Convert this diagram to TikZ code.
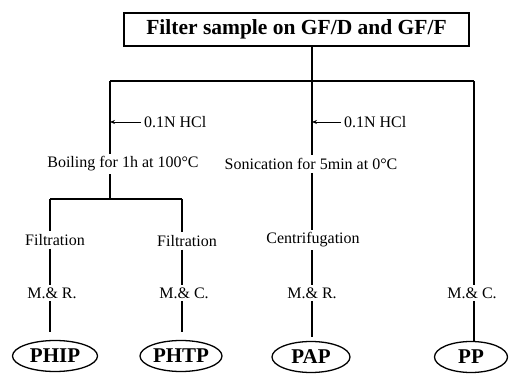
\documentclass[tikz,border=0pt]{standalone}
\usepackage{fontspec}
\setmainfont{Liberation Serif}
\usetikzlibrary{arrows.meta,shapes.geometric}
\begin{document}
\begin{tikzpicture}[x=1pt,y=-1pt,line width=1.1pt,
  lab/.style={font=\fontsize{16}{17}\selectfont,inner sep=2.5pt},
  headbox/.style={draw,line width=1.2pt,minimum width=345pt,minimum height=33pt,
    font=\bfseries\fontsize{21.5}{23}\selectfont},
  product/.style={draw,ellipse,line width=1.3pt,minimum height=31pt,inner sep=0pt,
    font=\bfseries\fontsize{21}{23}\selectfont},
  acid/.style={-{Stealth[length=5pt,width=4pt]},line width=0.8pt}]
\useasboundingbox (0,0) rectangle (509,374);

% sample filtration
\node[headbox] (top) at (296.5,29.5) {Filter sample on GF/D and GF/F};

% distribution bar
\coordinate (j0) at (312,81);
\coordinate (jL) at (110,81);
\coordinate (jR) at (474,81);
\draw (top.south -| j0) -- (j0);
\draw (jL) -- (jR);

% hydrolysis steps
\node[lab] (boil) at (123,164) {Boiling for 1h at 100°C};
\node[lab] (sonic) at (311,164) {Sonication for 5min at 0°C};
\node[lab,anchor=west] (acid1) at (141,122) {0.1N HCl};
\node[lab,anchor=west] (acid2) at (341,122) {0.1N HCl};

\draw (jL) -- (jL |- boil.north);
\draw (j0) -- (j0 |- sonic.north);
\draw[acid] (acid1.west) -- (acid1.west -| jL);
\draw[acid] (acid2.west) -- (acid2.west -| j0);

% split after boiling
\coordinate (jS) at (110,199);
\coordinate (jS1) at (50,199);
\coordinate (jS2) at (182,199);
\draw (boil.south -| jS) -- (jS);
\draw (jS1) -- (jS2);

% separation steps
\node[lab] (filt1) at (55,240) {Filtration};
\node[lab] (filt2) at (187,241) {Filtration};
\node[lab] (centr) at (313,240) {Centrifugation};

\draw (jS1) -- (jS1 |- filt1.north);
\draw (jS2) -- (jS2 |- filt2.north);
\draw (sonic.south -| j0) -- (j0 |- centr.north);

% measurement
\node[lab] (mr1) at (52,293) {M.\& R.};
\node[lab] (mc1) at (184,293) {M.\& C.};
\node[lab] (mr2) at (312,293) {M.\& R.};
\node[lab] (mc2) at (472,293) {M.\& C.};

\draw (filt1.south -| jS1) -- (jS1 |- mr1.north);
\draw (filt2.south -| jS2) -- (jS2 |- mc1.north);
\draw (centr.south -| j0) -- (j0 |- mr2.north);
\draw (jR) -- (jR |- mc2.north);

% phosphorus fractions
\node[product,minimum width=85pt] (phip) at (55,356) {PHIP};
\node[product,minimum width=82pt] (phtp) at (181,356) {PHTP};
\node[product,minimum width=78pt] (pap) at (311,357) {PAP};
\node[product,minimum width=73pt] (pp) at (471,357) {PP};

\draw (mr1.south -| jS1) -- ([yshift=8pt]jS1 |- phip.north);
\draw (mc1.south -| jS2) -- ([yshift=8pt]jS2 |- phtp.north);
\draw (mr2.south -| j0) -- ([yshift=4pt]j0 |- pap.north);
\draw (mc2.south -| jR) -- (jR |- pp.north);
\end{tikzpicture}
\end{document}
